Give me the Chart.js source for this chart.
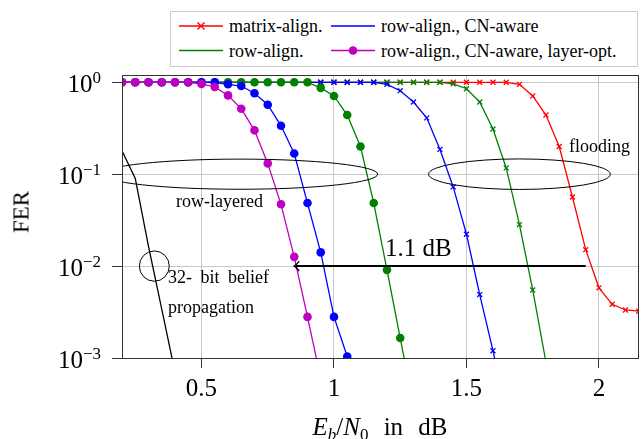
<!DOCTYPE html>
<html><head><meta charset="utf-8">
<script src="https://cdn.jsdelivr.net/npm/chart.js@4.4.1/dist/chart.umd.min.js"></script>
<style>
body{margin:0;background:#fff;}
#wrap{position:relative;width:644px;height:439px;font-family:"Liberation Serif","Times New Roman",serif;color:#000;overflow:hidden;}
canvas{position:absolute;left:0;top:0;}
.t{position:absolute;white-space:nowrap;line-height:1;font-family:"Liberation Serif","Times New Roman",serif;}
#legendBox{position:absolute;left:170px;top:11px;width:468px;height:56px;border:1px solid #cccccc;box-sizing:border-box;background:#fff;}
svg{position:absolute;left:0;top:0;}
</style></head><body>
<div id="wrap">
<canvas id="c" width="644" height="439"></canvas>
<div id="legendBox"></div>
<svg width="644" height="439" viewBox="0 0 644 439">
  <line x1="179" y1="26" x2="223" y2="26" stroke="#ff0000" stroke-width="1.4"/>
  <path d="M197.5 22.5 L204.5 29.5 M197.5 29.5 L204.5 22.5" stroke="#ff0000" stroke-width="1.4"/>
  <line x1="331" y1="26" x2="375" y2="26" stroke="#0000ff" stroke-width="1.4"/>
  <line x1="179" y1="50.5" x2="223" y2="50.5" stroke="#008000" stroke-width="1.4"/>
  <line x1="331" y1="50.5" x2="375" y2="50.5" stroke="#bf00bf" stroke-width="1.4"/>
  <circle cx="353" cy="50.5" r="4.3" fill="#bf00bf"/>
</svg>
<div class="t" style="left:229px;top:17px;font-size:18px;">matrix-align.</div>
<div class="t" style="left:381px;top:17px;font-size:18px;">row-align., CN-aware</div>
<div class="t" style="left:229px;top:41.5px;font-size:18px;">row-align.</div>
<div class="t" style="left:381px;top:41.5px;font-size:18px;">row-align., CN-aware, layer-opt.</div>

<div class="t" style="left:176px;top:192px;font-size:18px;">row-layered</div>
<div class="t" style="left:569px;top:137px;font-size:18px;">flooding</div>
<div class="t" style="left:168px;top:268px;font-size:18px;word-spacing:4px;">32- bit belief</div>
<div class="t" style="left:168px;top:298px;font-size:18px;">propagation</div>
<div class="t" style="left:385px;top:235px;font-size:25px;">1.1 dB</div>

<div class="t" style="left:21px;top:212px;font-size:23px;transform:translate(-50%,-50%) rotate(-90deg);">FER</div>
<div class="t" style="left:380px;top:414px;font-size:25px;transform:translateX(-50%);word-spacing:9px;"><i>E</i><span style="font-size:17px;position:relative;top:5px;"><i>b</i></span>/<i>N</i><span style="font-size:17px;position:relative;top:5px;">0</span> in dB</div>
</div>
<script>
// E_b/N_0 grid in dB (step 0.05)
const ebn0Grid = [0.20,0.25,0.30,0.35,0.40,0.45,0.50,0.55,0.60,0.65,0.70,0.75,0.80,0.85,0.90,0.95,1.00,1.05,1.10,1.15,
                  1.20,1.25,1.30,1.35,1.40,1.45,1.50,1.55,1.60,1.65,1.70,1.75,1.80,1.85,1.90,1.95,2.00,2.05,2.10,2.15];
// FER series (start at 0.20 dB)
const ferMatrixFlood = [1,1,1,1,1,1,1,1,1,1,1,1,1,1,1,1,1,1,1,1,1,1,1,1,1,1,1,1,1,1,
                        0.95,0.71,0.44,0.20,0.0565,0.0151,0.0058,0.00384,0.00333,0.00323];
const ferRowFlood = [1,1,1,1,1,1,1,1,1,1,1,1,1,1,1,1,1,1,1,1,1,1,1,1,1,
                     0.96,0.85,0.61,0.31,0.117,0.0283,0.0055,0.0009];
const ferCNFlood = [1,1,1,1,1,1,1,1,1,1,1,1,1,1,1,1,1,1,1,1,
                    0.95,0.81,0.61,0.41,0.186,0.0727,0.0222,0.0049,0.0012,0.00025];
const ferRowLayer = [1,1,1,1,1,1,1,1,1,1,1,1,1,1,1,
                     0.87,0.71,0.44,0.20,0.0485,0.0091,0.00165,0.0003];
const ferCNLayer = [1,1,1,1,1,1,1,1,
                    0.95,0.91,0.76,0.57,0.336,0.168,0.0485,0.0141,0.0028,0.00104];
const ferOptLayer = [1,1,1,1,1,1,
                     0.96,0.89,0.72,0.515,0.30,0.131,0.047,0.0126,0.0028,0.0006];
const ferBP32 = [0.18,0.09,0.0164,0.0034,0.0007];

const xTicks = [0.5,1,1.5,2];
const yTicks = [1e-3,1e-2,1e-1,1];
const yTickExp = ['\u22123','\u22122','\u22121','0'];

// annotations in data coordinates
const ellipses = [{x:0.645,y:0.1,rx:0.52,ryDec:0.164},{x:1.70,y:0.1,rx:0.343,ryDec:0.166}];
const circleMark = {x:0.322,y:0.01,rx:0.0565,ryDec:0.165};
const gainArrow = {x1:1.95,x2:0.85,y:0.01};

const pts = arr => arr.map((v,i)=>({x:ebn0Grid[i],y:v}));

function ds(data,color,style){
  const base = {data:pts(data),borderColor:color,backgroundColor:color,borderWidth:1.3,tension:0,fill:false};
  if(style==='dot'){Object.assign(base,{pointStyle:'circle',pointRadius:4.3,pointBorderWidth:0,pointBackgroundColor:color});}
  else if(style==='cross'){Object.assign(base,{pointStyle:'crossRot',pointRadius:3.5,pointBorderWidth:1.3,pointBorderColor:color});}
  else {Object.assign(base,{pointRadius:0});}
  return base;
}

const decor = {
  id:'decor',
  afterDatasetsDraw(chart){
    const {ctx,chartArea:a,scales:{x,y}} = chart;
    ctx.save();
    ctx.beginPath(); ctx.rect(a.left,a.top,a.right-a.left,a.bottom-a.top); ctx.clip();
    ctx.strokeStyle='#000'; ctx.lineWidth=1;
    const shape = e => {
      const cx=x.getPixelForValue(e.x), cy=y.getPixelForValue(e.y);
      const rx=x.getPixelForValue(e.x+e.rx)-cx;
      const ry=y.getPixelForValue(e.y*Math.pow(10,-e.ryDec))-cy;
      ctx.beginPath(); ctx.ellipse(cx,cy,rx,ry,0,0,2*Math.PI); ctx.stroke();
    };
    ellipses.forEach(shape); shape(circleMark);
    const ax1=x.getPixelForValue(gainArrow.x1), ax2=x.getPixelForValue(gainArrow.x2), ay=y.getPixelForValue(gainArrow.y);
    ctx.lineWidth=2; ctx.beginPath(); ctx.moveTo(ax1,ay); ctx.lineTo(ax2+1,ay); ctx.stroke();
    ctx.lineWidth=1.3; ctx.beginPath();
    ctx.moveTo(ax2+5,ay-5); ctx.quadraticCurveTo(ax2+2,ay-1,ax2,ay); ctx.quadraticCurveTo(ax2+2,ay+1,ax2+5,ay+5); ctx.stroke();
    ctx.restore();
  },
  afterDraw(chart){
    const {ctx,chartArea:a} = chart;
    ctx.save(); ctx.strokeStyle='#333'; ctx.lineWidth=1;
    ctx.strokeRect(Math.round(a.left)+0.5,Math.round(a.top)+0.5,Math.round(a.right-a.left)-1,Math.round(a.bottom-a.top));
    ctx.restore();
  }
};

const chart = new Chart(document.getElementById('c'),{
  type:'line',
  data:{datasets:[
    ds(ferOptLayer,'#bf00bf','dot'),
    ds(ferCNLayer,'#0000ff','dot'),
    ds(ferRowLayer,'#008000','dot'),
    ds(ferBP32,'#000000','none'),
    ds(ferCNFlood,'#0000ff','cross'),
    ds(ferRowFlood,'#008000','cross'),
    ds(ferMatrixFlood,'#ff0000','cross')
  ]},
  options:{
    responsive:false, animation:false, devicePixelRatio:1,
    layout:{padding:{left:0,top:75,right:4,bottom:0}},
    plugins:{legend:{display:false},tooltip:{enabled:false}},
    scales:{
      x:{type:'linear',min:0.2,max:2.15,
        afterBuildTicks:s=>{s.ticks=xTicks.map(v=>({value:v}));},
        afterFit:s=>{s.height=81;},
        grid:{color:'#c8c8c8',tickColor:'#333',tickLength:10,drawTicks:true},
        border:{color:'#333',width:1},
        ticks:{font:{family:'Liberation Serif',size:25},color:'#000',padding:6,maxRotation:0,
          callback:v=>String(v)}
      },
      y:{type:'logarithmic',min:1e-3,max:1.2,
        afterBuildTicks:s=>{s.ticks=yTicks.map(v=>({value:v}));},
        afterFit:s=>{s.width=122;},
        grid:{color:'#c8c8c8',tickColor:'#333',tickLength:10,drawTicks:true},
        border:{color:'#333',width:1},
        ticks:{font:{family:'Liberation Serif',size:25},color:'#000',padding:10,callback:()=>''}
      }
    }
  },
  plugins:[decor]
});

// y tick labels (10^k) as HTML text, placed with the library's y scale
const wrap = document.getElementById('wrap');
yTicks.forEach((v,i)=>{
  const d=document.createElement('div');
  d.className='t';
  d.style.right=(644-101)+'px';
  d.style.top=(chart.scales.y.getPixelForValue(v)-11)+'px';
  d.style.fontSize='25px';
  d.innerHTML='10<span style="font-size:17px;position:relative;top:-9px;">'+yTickExp[i]+'</span>';
  wrap.appendChild(d);
});
</script>
</body></html>
